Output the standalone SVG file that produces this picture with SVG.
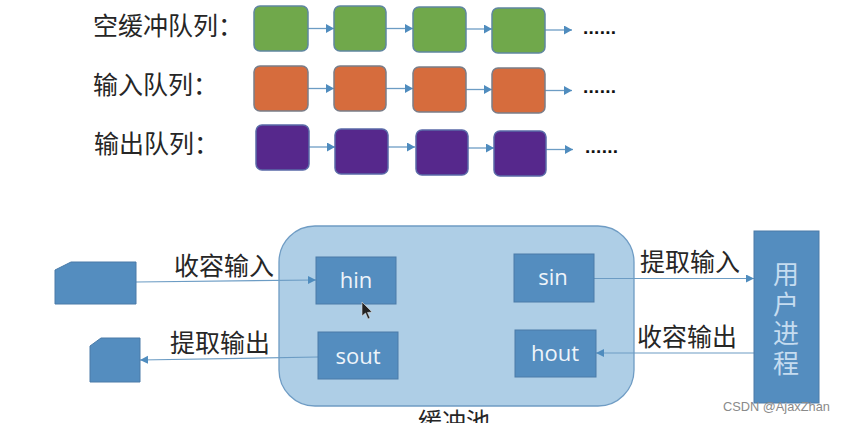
<svg xmlns="http://www.w3.org/2000/svg" width="845" height="423" viewBox="0 0 845 423">
<style>
text{font-family:"Noto Sans CJK SC","Noto Sans",sans-serif}
.lbl{font-size:25px;fill:#262626}
.g{fill:#70a84b;stroke:#5f86a0;stroke-width:1.5}
.o{fill:#d66c3d;stroke:#7a7d88;stroke-width:1.5}
.p{fill:#56288c;stroke:#5a6aa8;stroke-width:1.5}
.c{stroke:#6c9cc4;stroke-width:1.3;fill:none;marker-end:url(#a)}
.d{stroke:#6c9cc4;stroke-width:1.2;fill:none;marker-end:url(#b)}
.b{fill:#548dbf;stroke:#4a7ba8;stroke-width:1}
.w{font-family:"Open Sans","Noto Sans",sans-serif;font-size:22px;fill:#eef4fa;text-anchor:middle}
.u{font-size:26px;fill:#c5dcf0;text-anchor:middle}
.dots{font-family:"Liberation Sans",sans-serif;font-size:19px;font-weight:bold;fill:#111}
</style>
<defs>
<marker id="a" markerUnits="userSpaceOnUse" markerWidth="9" markerHeight="9" refX="8" refY="4.5" orient="auto"><path d="M0 0L8 4.5L0 9Z" fill="#4f8cbe"/></marker>
<marker id="b" markerUnits="userSpaceOnUse" markerWidth="9" markerHeight="9" refX="8" refY="4" orient="auto"><path d="M0 0L8 4L0 8Z" fill="#4f8cbe"/></marker>
</defs>
<rect width="845" height="423" fill="#fff"/>
<g id="labels">
<text class="lbl" x="93" y="35">空缓冲队列：</text>
<text class="lbl" x="93" y="94">输入队列：</text>
<text class="lbl" x="94" y="153">输出队列：</text>
</g>
<g id="pool"><rect x="279" y="226" width="355" height="180" rx="36" fill="#aeceE6" stroke="#6f9cc4" stroke-width="1.3"/>
<text x="418" y="430" style="font-size:24px;fill:#262626">缓冲池</text></g>
<g id="connectors">
<path class="c" d="M308 28.500H334"/><path class="c" d="M386 28.500H413"/><path class="c" d="M466 29H492"/><path class="c" d="M545 30H572"/>
<path class="c" d="M308 88.500H334"/><path class="c" d="M386 88.500H413"/><path class="c" d="M466 89.500H492"/><path class="c" d="M545 90.500H572"/>
<path class="c" d="M309 147H335"/><path class="c" d="M388 147H415"/><path class="c" d="M468 148H494"/><path class="c" d="M546 149.500H573"/>
<path class="d" d="M136 282L316 280"/>
<path class="d" d="M318 357L140 360"/>
<path class="d" d="M594 278.500H754"/>
<path class="d" d="M754 353H596"/>
</g>
<g id="g1"><rect class="g" x="254" y="6" width="54" height="45" rx="6"/></g>
<g id="g2"><rect class="g" x="334" y="6" width="52" height="45" rx="6"/></g>
<g id="g3"><rect class="g" x="413" y="7" width="53" height="45" rx="6"/></g>
<g id="g4"><rect class="g" x="492" y="8" width="53" height="45" rx="6"/></g>
<g id="o1"><rect class="o" x="254" y="66" width="54" height="45" rx="6"/></g>
<g id="o2"><rect class="o" x="334" y="66" width="52" height="45" rx="6"/></g>
<g id="o3"><rect class="o" x="413" y="67" width="53" height="45" rx="6"/></g>
<g id="o4"><rect class="o" x="492" y="68" width="53" height="45" rx="6"/></g>
<g id="p1"><rect class="p" x="256" y="125" width="53" height="45" rx="6"/></g>
<g id="p2"><rect class="p" x="335" y="129" width="53" height="45" rx="6"/></g>
<g id="p3"><rect class="p" x="416" y="130" width="52" height="45" rx="6"/></g>
<g id="p4"><rect class="p" x="494" y="131" width="52" height="45" rx="6"/></g>
<g id="dots">
<text class="dots" x="583" y="34" textLength="33">......</text>
<text class="dots" x="583" y="93" textLength="33">......</text>
<text class="dots" x="585" y="153" textLength="33">......</text>
</g>
<g id="conn-labels">
<text class="lbl" x="174" y="275">收容输入</text>
<text class="lbl" x="170" y="352">提取输出</text>
<text class="lbl" x="640" y="271">提取输入</text>
<text class="lbl" x="637" y="346">收容输出</text>
</g>
<g id="card1"><path class="b" d="M55 270L71 262H136V304H55Z"/></g>
<g id="card2"><path class="b" d="M90 346L101 338H140V382H90Z"/></g>
<g id="hin"><rect class="b" x="316" y="257" width="80" height="47"/><text class="w" x="356" y="288">hin</text></g>
<g id="sout"><rect class="b" x="318" y="332" width="80" height="47"/><text class="w" x="358" y="364">sout</text></g>
<g id="sin"><rect class="b" x="514" y="254" width="80" height="48"/><text class="w" x="553" y="285">sin</text></g>
<g id="hout"><rect class="b" x="515" y="330" width="81" height="47"/><text class="w" x="555" y="361">hout</text></g>
<g id="user"><rect class="b" x="754" y="231" width="65" height="172"/>
<text class="u" x="786" y="284">用<tspan x="786" dy="29.500">户</tspan><tspan x="786" dy="29.500">进</tspan><tspan x="786" dy="29.500">程</tspan></text></g>
<path id="cursor" d="M362 302V316L365.500 313L368 319L370 318L367.500 312.500L372 312Z" fill="#222" stroke="#ddd" stroke-width=".6"/>
<text x="723" y="411" font-size="12.800" fill="#8a8a8a" style="font-family:'Liberation Sans',sans-serif">CSDN @AjaxZhan</text>
</svg>
